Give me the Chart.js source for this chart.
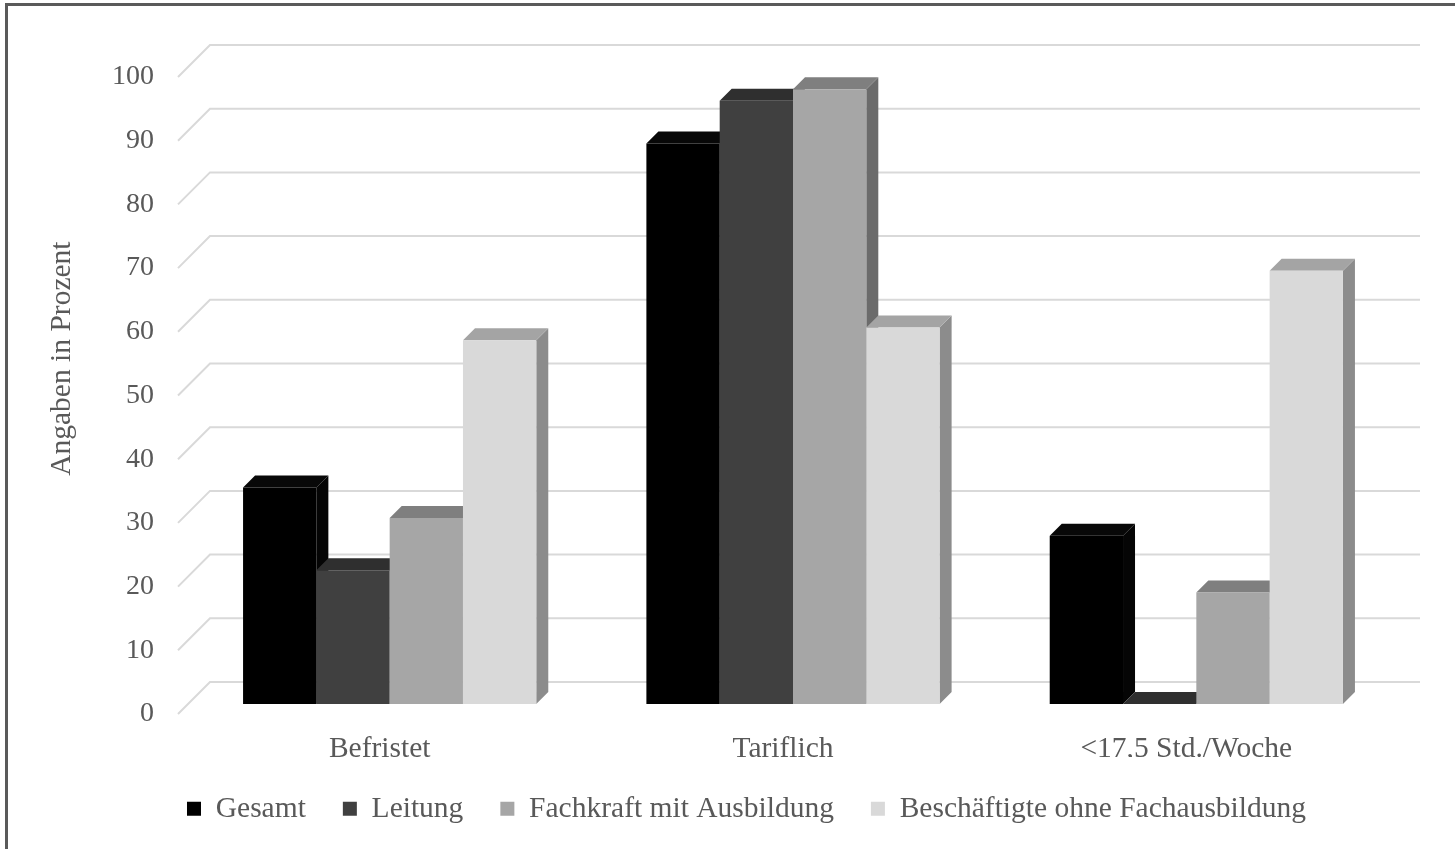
<!DOCTYPE html>
<html lang="de">
<head>
<meta charset="utf-8">
<title>Beschäftigungsbedingungen nach Qualifikation</title>
<script src="https://cdn.jsdelivr.net/npm/chart.js@4.4.1/dist/chart.umd.min.js"></script>
<style>
  html, body { margin: 0; padding: 0; background: #ffffff; overflow: hidden; }
  #wrap { position: relative; width: 1455px; height: 849px; }
  #frame {
    position: absolute; left: 5px; top: 3px; right: -10px; bottom: -10px;
    border: 3px solid #5a5a5a; pointer-events: none;
  }
</style>
</head>
<body>
<div id="wrap">
  <canvas id="chart" width="1455" height="849"></canvas>
  <div id="frame"></div>
</div>
<script>
// Kategorien und Werte (Angaben in Prozent)
const categories = ['Befristet', 'Tariflich', '<17,5 Std./Woche'];
const seriesNames = ['Gesamt', 'Leitung', 'Fachkraft mit Ausbildung', 'Beschäftigte ohne Fachausbildung'];
const gesamt = [34, 88, 26.4];
const leitung = [21, 94.7, 0];
const fachkraft = [29.2, 96.5, 17.5];
const ohneFachausbildung = [57.1, 59.1, 68];
const yTicks = [0, 10, 20, 30, 40, 50, 60, 70, 80, 90, 100];
const yTitle = 'Angaben in Prozent';

// Farben: Vorderseite, Oberseite, Seitenfläche
const frontColors = ['#000000', '#404040', '#a6a6a6', '#d9d9d9'];
const topColors = ['#080808', '#2f2f2f', '#7f7f7f', '#a4a4a4'];
const sideColors = ['#050505', '#303030', '#6b6b6b', '#8c8c8c'];

const TEXT = '#595959';
const FONT = 'Liberation Serif, Times New Roman, serif';
const DEPTH_WALL = 32;   // Tiefe des Bodens (Vorderkante -> Rückwand)
const BAR_SHIFT = 10;    // Lage der Balken-Vorderseite hinter der Vorderkante
const BAR_DEPTH = 12;    // Tiefe der Säulen

// Rückwand-Gitternetz und Säulen als Quader, von links nach rechts gezeichnet
const chart3d = {
  id: 'chart3d',
  beforeDatasetsDraw(chart) {
    const { ctx, chartArea } = chart;
    const y = chart.scales.y;

    ctx.save();
    ctx.strokeStyle = '#d9d9d9';
    ctx.lineWidth = 2;
    yTicks.forEach(v => {
      const py = y.getPixelForValue(v);
      ctx.beginPath();
      ctx.moveTo(chartArea.left, py);
      ctx.lineTo(chartArea.left + DEPTH_WALL, py - DEPTH_WALL);
      ctx.lineTo(chartArea.right + DEPTH_WALL, py - DEPTH_WALL);
      ctx.stroke();
    });
    ctx.restore();

    const d = BAR_DEPTH;
    chart.data.datasets.forEach((ds, i) => {
      const meta = chart.getDatasetMeta(i);
      ctx.save();
      ctx.translate(BAR_SHIFT, -BAR_SHIFT);
      meta.data.forEach(el => {
        const p = el.getProps(['x', 'y', 'base', 'width'], true);
        const L = p.x - p.width / 2, R = p.x + p.width / 2;
        const T = Math.min(p.y, p.base), B = p.base;
        // Seitenfläche
        ctx.fillStyle = sideColors[i];
        ctx.beginPath();
        ctx.moveTo(R, T); ctx.lineTo(R + d, T - d); ctx.lineTo(R + d, B - d); ctx.lineTo(R, B);
        ctx.closePath(); ctx.fill();
        // Oberseite
        ctx.fillStyle = topColors[i];
        ctx.beginPath();
        ctx.moveTo(L, T); ctx.lineTo(L + d, T - d); ctx.lineTo(R + d, T - d); ctx.lineTo(R, T);
        ctx.closePath(); ctx.fill();
      });
      // Vorderseiten über die Bar-Elemente der Bibliothek
      meta.data.forEach(el => el.draw(ctx));
      ctx.restore();
    });
    return false;
  }
};

const seriesValues = [gesamt, leitung, fachkraft, ohneFachausbildung];

new Chart(document.getElementById('chart'), {
  type: 'bar',
  data: {
    labels: categories,
    datasets: seriesValues.map((vals, i) => ({
      label: seriesNames[i],
      data: vals,
      backgroundColor: frontColors[i],
      borderWidth: 0,
      categoryPercentage: 0.727,
      barPercentage: 1.0
    }))
  },
  options: {
    responsive: false,
    animation: false,
    devicePixelRatio: 1,
    layout: { padding: { left: 38, right: 0, top: 77, bottom: 15.5 } },
    plugins: {
      tooltip: { enabled: false },
      legend: {
        position: 'bottom',
        align: 'center',
        labels: {
          color: TEXT,
          font: { family: FONT, size: 29.5 },
          boxWidth: 14,
          boxHeight: 14,
          padding: 37
        }
      }
    },
    scales: {
      x: {
        grid: { display: false, drawTicks: false },
        border: { display: false },
        ticks: { color: TEXT, font: { family: FONT, size: 29.5 }, padding: 18, maxRotation: 0 },
        afterFit(scale) { scale.height = 43; }
      },
      y: {
        min: 0,
        max: 100,
        grid: { display: false, drawTicks: false },
        border: { display: false },
        ticks: {
          color: TEXT,
          font: { family: FONT, size: 28 },
          padding: 24,
          stepSize: 10,
          callback: v => String(v)
        },
        title: {
          display: true,
          // führende geschützte Leerzeichen rücken den Titel etwas nach oben
          text: '\u00A0'.repeat(10) + yTitle,
          color: TEXT,
          font: { family: FONT, size: 29.5 },
          padding: { top: 7, bottom: 0 }
        },
        afterFit(scale) { scale.width = 140; }
      },
      yRight: {
        position: 'right',
        display: true,
        grid: { display: false, drawTicks: false },
        border: { display: false },
        ticks: { display: false },
        afterFit(scale) { scale.width = 67; }
      }
    }
  },
  plugins: [chart3d]
});
</script>
</body>
</html>
